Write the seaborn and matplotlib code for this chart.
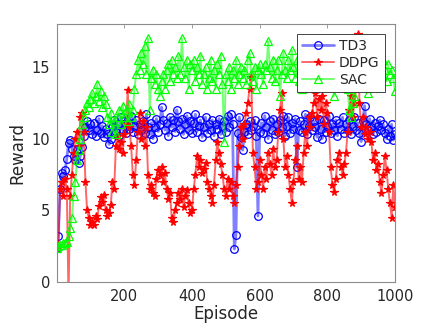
import numpy as np
import pandas as pd
import matplotlib
matplotlib.use("Agg")
import matplotlib.pyplot as plt
import seaborn as sns

episodes = [1] + list(range(5, 1001, 5))

td3 = [2.4,
       3.2, 6.5, 7.6, 7.4, 7.8, 8.6, 9.7, 9.9, 9.3, 8.8,
       8.5, 9.2, 8.3, 8.8, 9.4, 10.2, 10.8, 11.2, 10.6, 11.0,
       10.3, 11.1, 10.2, 10.6, 11.4, 10.4, 10.9, 10.1, 10.7, 10.3,
       9.6, 10.0, 10.8, 11.3, 10.5, 11.0, 10.2, 11.5, 10.6, 11.2,
       10.4, 11.1, 10.7, 11.6, 10.5, 10.9, 11.3, 10.3, 11.0, 10.6,
       11.2, 10.4, 11.7, 10.8, 10.3, 11.1, 10.0, 10.8, 11.4, 10.5,
       11.0, 12.2, 11.3, 10.6, 11.1, 10.2, 11.5, 10.8, 11.3, 10.5,
       12.0, 11.2, 10.7, 11.4, 10.3, 11.0, 11.6, 10.6, 11.2, 10.4,
       11.1, 11.7, 10.5, 10.9, 11.3, 10.1, 10.8, 11.5, 10.4, 11.0,
       10.6, 11.3, 10.2, 11.0, 10.7, 11.4, 10.3, 10.9, 11.2, 10.5,
       11.6, 10.8, 11.7, 11.0, 2.3, 3.3, 10.4, 11.5, 10.1, 9.2,
       10.5, 11.0, 10.3, 11.2, 10.6, 10.9, 11.3, 10.2, 4.6, 10.5,
       11.1, 10.4, 11.6, 10.8, 10.0, 11.2, 10.6, 11.4, 10.3, 11.0,
       10.5, 11.3, 10.8, 11.6, 10.2, 10.9, 11.5, 10.4, 11.1, 10.7,
       11.4, 8.0, 10.6, 11.2, 10.5, 11.0, 11.7, 10.3, 10.9, 11.5,
       10.6, 11.2, 10.8, 10.1, 11.4, 10.7, 10.0, 11.3, 10.5, 10.9,
       11.6, 10.4, 11.0, 10.6, 11.3, 10.2, 11.1, 10.7, 11.5, 10.4,
       11.0, 10.6, 11.3, 10.3, 10.9, 11.5, 10.6, 11.1, 10.4, 9.8,
       11.2, 12.3, 11.0, 10.6, 11.4, 10.8, 10.3, 11.1, 10.5, 10.9,
       11.3, 10.6, 11.0, 10.4, 10.0, 10.7, 10.2, 11.0, 9.9, 10.3]

ddpg = [2.4,
        2.6, 6.5, 7.0, 6.0, 7.2, 6.5, -1.0, 6.0, 7.5, 9.0,
        10.0, 10.5, 9.5, 11.5, 11.8, 10.5, 7.0, 5.0, 4.5, 4.0,
        4.2, 4.0, 4.6, 4.4, 5.3, 5.9, 5.6, 6.1, 5.0, 4.6,
        4.8, 5.4, 7.0, 6.5, 9.5, 10.2, 9.3, 9.8, 9.0, 10.3,
        11.0, 13.4, 10.8, 9.5, 7.5, 6.8, 8.5, 10.5, 11.8, 10.0,
        11.2, 9.5, 10.8, 7.5, 6.5, 6.8, 6.2, 6.0, 7.2, 7.8,
        7.5, 8.0, 7.0, 7.6, 6.5, 5.8, 6.2, 4.5, 4.2, 5.0,
        5.5, 6.2, 5.8, 6.5, 5.2, 6.0, 6.4, 5.5, 4.8, 5.0,
        6.5, 7.5, 8.8, 8.0, 8.5, 7.6, 7.9, 8.3, 7.0, 6.5,
        6.0, 5.5, 6.8, 8.5, 9.8, 9.0, 8.2, 7.5, 6.5, 6.0,
        7.2, 6.5, 7.0, 6.0, 5.5, 6.8, 8.0, 9.5, 10.8, 10.0,
        11.0, 11.8, 12.5, 13.5, 14.3, 9.0, 8.0, 6.5, 7.0, 8.5,
        7.5, 6.5, 8.0, 7.2, 9.0, 8.2, 7.5, 9.3, 8.0, 8.5,
        10.5, 12.0, 13.2, 10.0, 8.0, 8.8, 7.5, 6.5, 5.5, 7.0,
        8.5, 9.5, 7.2, 8.0, 7.0, 9.0, 10.5, 9.5, 11.5, 10.8,
        11.8, 12.5, 13.2, 11.5, 12.8, 12.0, 13.0, 11.0, 12.5, 11.8,
        10.5, 8.0, 6.8, 6.3, 7.2, 8.5, 9.0, 8.0, 7.5, 8.2,
        9.0, 10.5, 12.0, 13.0, 11.5, 12.5, 13.5, 17.3, 12.5, 10.8,
        11.5, 10.3, 10.8, 10.0, 10.5, 9.8, 8.5, 9.0, 7.8, 8.2,
        7.0, 6.2, 7.5, 8.8, 7.8, 6.5, 5.5, 4.5, 6.8, 5.2]

sac = [2.4,
       2.5, 2.6, 2.6, 2.7, 2.7, 2.8, 3.2, 3.8, 4.5, 6.0,
       7.0, 8.5, 9.2, 10.0, 11.0, 11.5, 12.0, 12.5, 12.2, 12.8,
       13.2, 12.5, 13.0, 13.8, 12.6, 13.3, 12.2, 13.0, 12.4, 11.5,
       11.0, 11.8, 10.5, 11.2, 10.3, 11.5, 12.0, 11.0, 12.3, 11.5,
       12.0, 11.2, 12.4, 11.5, 12.0, 13.5, 14.5, 15.5, 14.8, 16.0,
       15.2, 16.5, 14.5, 17.0, 12.0, 14.2, 14.8, 13.8, 14.5, 13.5,
       13.0, 14.0, 14.5, 13.5, 14.8, 15.2, 14.0, 15.5, 14.5, 15.0,
       14.2, 15.8, 14.5, 17.0, 15.0, 14.2, 15.5, 13.5, 15.2, 14.8,
       15.5, 14.0, 15.0, 14.5, 15.8, 13.8, 14.5, 15.0, 13.5, 14.2,
       15.5, 14.0, 14.8, 13.5, 15.2, 14.5, 15.8, 13.8, 9.8, 14.5,
       14.0, 15.0, 13.5, 14.8, 14.2, 15.5, 13.8, 14.5, 15.0, 14.2,
       14.8, 13.8, 15.5, 16.0, 14.5, 14.0, 15.0, 13.5, 14.8, 15.2,
       14.5, 13.8, 15.2, 14.8, 16.8, 15.0, 14.2, 15.5, 14.0, 14.8,
       15.5, 13.0, 14.5, 16.0, 14.8, 14.2, 15.5, 14.8, 16.2, 15.0,
       14.2, 15.5, 14.0, 14.8, 13.5, 15.2, 14.5, 15.8, 14.0, 15.0,
       14.5, 13.8, 15.2, 14.0, 15.5, 14.5, 13.8, 15.0, 14.2, 15.5,
       14.8, 15.2, 14.0, 13.0, 14.5, 15.0, 14.2, 15.5, 14.8, 14.0,
       14.5, 13.5, 12.0, 11.5, 12.5, 13.0, 14.5, 15.0, 14.2, 15.5,
       14.8, 15.2, 14.0, 13.2, 14.5, 15.0, 14.2, 15.5, 14.8, 14.5,
       15.0, 14.2, 15.5, 14.8, 14.0, 15.2, 14.5, 14.8, 14.2, 13.3]

series_names = ["TD3", "DDPG", "SAC"]
x_ticks = [200, 400, 600, 800, 1000]
y_ticks = [0, 5, 10, 15]

sns.set_style("white")
plt.rcParams['font.family'] = ['DejaVu Sans']

fig = plt.figure(figsize=(4.36, 3.27), dpi=100)
ax = fig.add_axes([57/436, 45/327, 338/436, 258/327])

styles = {
    "TD3": dict(marker='o', mec=(0, 0, 1), mfc='none', ms=5.5, line=(0, 0, 1, 0.5), lw=2.0),
    "DDPG": dict(marker='*', mec=(1, 0, 0), mfc=(1, 0, 0), ms=5.5, line=(1, 0, 0, 0.6), lw=1.4),
    "SAC": dict(marker='^', mec=(0, 1, 0), mfc='none', ms=5.5, line=(0, 1, 0, 0.55), lw=1.4),
}

for name, vals in zip(series_names, [td3, ddpg, sac]):
    st = styles[name]
    df = pd.DataFrame({"Episode": episodes, "Reward": vals})
    sns.lineplot(data=df, x="Episode", y="Reward", ax=ax, label=name,
                 marker=st['marker'], markersize=st['ms'],
                 markeredgecolor=st['mec'], markerfacecolor=st['mfc'],
                 markeredgewidth=0.9, linewidth=st['lw'],
                 color=st['mec'], legend=False, errorbar=None, sort=False)
    ln = ax.lines[-1]
    ln.set_color(st['line'])
    ln.set_markeredgecolor(st['mec'])
    ln.set_markerfacecolor(st['mfc'])

ax.set_xlim(1, 1000)
ax.set_ylim(0, 18)
ax.set_xticks(x_ticks)
ax.set_yticks(y_ticks)
ax.set_xticklabels([str(t) for t in x_ticks])
ax.set_yticklabels([str(t) for t in y_ticks])

gray = '#8c8c8c'
for sp in ax.spines.values():
    sp.set_visible(True)
    sp.set_color(gray)
    sp.set_linewidth(0.8)
ax.tick_params(direction='in', length=3, width=0.6, color=gray,
               labelsize=10.5, labelcolor='#262626', pad=5,
               top=True, right=True)

ax.set_xlabel("Episode", fontsize=12, color='#262626', labelpad=1)
ax.set_ylabel("Reward", fontsize=12, color='#262626', labelpad=4)

leg = ax.legend(loc='upper right', fontsize=10, frameon=True, fancybox=False,
                framealpha=1, edgecolor='#262626', borderaxespad=0.75,
                handlelength=2.3, handletextpad=0.4, labelspacing=0.2,
                borderpad=0.35)
leg.get_frame().set_linewidth(0.6)

fig.savefig("out.png", dpi=100)
